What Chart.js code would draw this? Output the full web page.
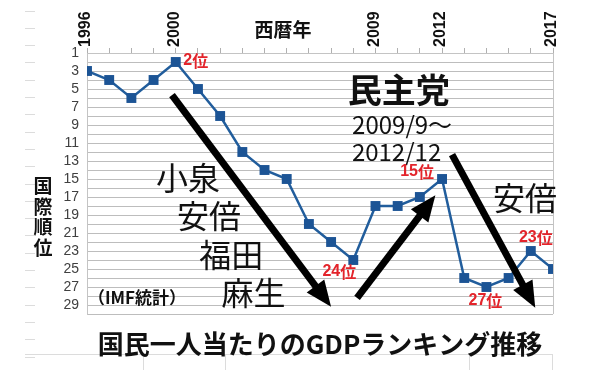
<!DOCTYPE html>
<html>
<head>
<meta charset="utf-8">
<script src="https://cdn.jsdelivr.net/npm/chart.js@4.4.0/dist/chart.umd.min.js"></script>
<style>
  html, body { margin: 0; padding: 0; background: #fff; }
</style>
</head>
<body>
<canvas id="myChart" width="602" height="370"></canvas>
<script>
// data
var years = [1996, 1997, 1998, 1999, 2000, 2001, 2002, 2003, 2004, 2005, 2006,
             2007, 2008, 2009, 2010, 2011, 2012, 2013, 2014, 2015, 2016, 2017];
var ranks = [3, 4, 6, 4, 2, 5, 8, 12, 14, 15, 20, 22, 24, 18, 18, 17, 15, 26, 27, 26, 23, 25];
var yearLabels = [1996, 2000, 2009, 2012, 2017];
var rankLabels = [1, 3, 5, 7, 9, 11, 13, 15, 17, 19, 21, 23, 25, 27, 29];
var calloutYears = [2000, 2008, 2012, 2014, 2016];

var jp = "'Noto Sans CJK JP', 'Noto Sans', sans-serif";
var lat = "'Liberation Sans', Arial, sans-serif";

// red rank callouts: pixel offset from the point
var calloutOffset = { 2000: [20, -1], 2008: [-14, 12], 2012: [-25, -7], 2014: [-1, 14], 2016: [5, -13] };

// text notes placed in data space (year, rank)
var notes = [
  { text: '民主党', x: 2010.05, y: 5.1, font: 'bold 34px ' + jp },
  { text: '2009/9～', x: 2010.2, y: 9.0, font: '24px ' + jp },
  { text: '2012/12', x: 2009.95, y: 12.0, font: '24px ' + jp },
  { text: '小泉', x: 2000.55, y: 14.9, font: '32px ' + jp },
  { text: '安倍', x: 2001.5, y: 19.1, font: '32px ' + jp },
  { text: '福田', x: 2002.5, y: 23.4, font: '32px ' + jp },
  { text: '麻生', x: 2003.5, y: 27.6, font: '32px ' + jp },
  { text: '（IMF統計）', x: 1998.25, y: 28.2, font: 'bold 17px ' + jp },
  { text: '安倍', x: 2015.74, y: 17.1, font: '32px ' + jp }
];

var arrows = [
  { from: [1999.83, 5.67], to: [2007.0, 29.2] },
  { from: [2008.17, 28.2], to: [2011.7, 16.8] },
  { from: [2012.45, 12.3], to: [2016.2, 29.3] }
];

function drawArrow(ctx, x1, y1, x2, y2) {
  var a = Math.atan2(y2 - y1, x2 - x1);
  var head = 26, half = 11;
  var bx = x2 - head * Math.cos(a), by = y2 - head * Math.sin(a);
  ctx.strokeStyle = '#000';
  ctx.lineWidth = 7;
  ctx.lineCap = 'butt';
  ctx.beginPath();
  ctx.moveTo(x1, y1);
  ctx.lineTo(bx + 2 * Math.cos(a), by + 2 * Math.sin(a));
  ctx.stroke();
  ctx.fillStyle = '#000';
  ctx.beginPath();
  ctx.moveTo(x2, y2);
  ctx.lineTo(bx + half * Math.sin(a), by - half * Math.cos(a));
  ctx.lineTo(bx - half * Math.sin(a), by + half * Math.cos(a));
  ctx.closePath();
  ctx.fill();
}

// faint spreadsheet cells behind the chart
var sheetPlugin = {
  id: 'sheet',
  beforeDraw: function (chart) {
    var ctx = chart.ctx;
    ctx.save();
    ctx.strokeStyle = '#dcdcdc';
    ctx.lineWidth = 1;
    for (var y = 10.5; y < 370; y += 17.3) {
      ctx.beginPath();
      ctx.moveTo(25, Math.round(y) + 0.5);
      ctx.lineTo(35, Math.round(y) + 0.5);
      ctx.stroke();
    }
    ctx.beginPath();
    ctx.moveTo(25, 354.5); ctx.lineTo(552, 354.5);
    [143.5, 225.5, 469.5, 552.5].forEach(function (x) {
      ctx.moveTo(x, 354); ctx.lineTo(x, 370);
    });
    ctx.stroke();
    ctx.restore();
  }
};

var notesPlugin = {
  id: 'notes',
  afterDatasetsDraw: function (chart) {
    var ctx = chart.ctx, xs = chart.scales.x, ys = chart.scales.y, area = chart.chartArea;
    ctx.save();

    // right frame line
    ctx.strokeStyle = '#c4c4c4';
    ctx.lineWidth = 1;
    ctx.beginPath();
    ctx.moveTo(Math.round(area.right) + 0.5, area.top);
    ctx.lineTo(Math.round(area.right) + 0.5, area.bottom);
    ctx.stroke();

    // year labels on the top axis, reading bottom to top
    ctx.fillStyle = '#111';
    ctx.font = 'bold 16px ' + lat;
    ctx.textAlign = 'left';
    ctx.textBaseline = 'middle';
    yearLabels.forEach(function (yr) {
      ctx.save();
      ctx.translate(xs.getPixelForValue(yr) - 1, area.top - 6);
      ctx.rotate(-Math.PI / 2);
      ctx.fillText(String(yr), 0, 0);
      ctx.restore();
    });

    arrows.forEach(function (a) {
      drawArrow(ctx, xs.getPixelForValue(a.from[0]), ys.getPixelForValue(a.from[1]),
                xs.getPixelForValue(a.to[0]), ys.getPixelForValue(a.to[1]));
    });

    ctx.textAlign = 'center';
    ctx.textBaseline = 'middle';
    ctx.fillStyle = '#111';
    notes.forEach(function (n) {
      ctx.font = n.font;
      ctx.fillText(n.text, xs.getPixelForValue(n.x), ys.getPixelForValue(n.y));
    });

    // red rank callouts
    ctx.fillStyle = '#e3242b';
    calloutYears.forEach(function (yr) {
      var i = years.indexOf(yr), off = calloutOffset[yr];
      var px = xs.getPixelForValue(yr) + off[0], py = ys.getPixelForValue(ranks[i]) + off[1];
      var num = String(ranks[i]);
      ctx.font = 'bold 16px ' + lat;
      var w1 = ctx.measureText(num).width;
      ctx.font = 'bold 16px ' + jp;
      var w2 = ctx.measureText('位').width;
      var sx = px - (w1 + w2) / 2;
      ctx.textAlign = 'left';
      ctx.font = 'bold 16px ' + lat;
      ctx.fillText(num, sx, py);
      ctx.font = 'bold 16px ' + jp;
      ctx.fillText('位', sx + w1, py);
      ctx.textAlign = 'center';
    });

    // axis titles
    ctx.fillStyle = '#111';
    ctx.font = 'bold 19px ' + jp;
    ctx.fillText('西暦年', 283, 30);
    '国際順位'.split('').forEach(function (ch, k) {
      ctx.fillText(ch, 43, 186 + k * 20.5);
    });

    // bottom title
    ctx.font = 'bold 26px ' + jp;
    ctx.fillText('国民一人当たりのGDPランキング推移', 320, 344);
    ctx.restore();
  }
};

var ctx = document.getElementById('myChart').getContext('2d');

var myChart = new Chart(ctx, {
  type: 'line',
  data: {
    datasets: [{
      label: '国際順位',
      data: years.map(function (yr, i) { return { x: yr, y: ranks[i] }; }),
      borderColor: '#215d9c',
      backgroundColor: '#1c5495',
      borderWidth: 2.5,
      pointStyle: 'rect',
      pointRadius: 7,
      pointBorderWidth: 0,
      pointHoverRadius: 7,
      tension: 0
    }]
  },
  options: {
    responsive: false,
    animation: false,
    layout: { padding: { left: 0, top: 0, right: 49, bottom: 56 } },
    plugins: {
      legend: { display: false },
      tooltip: { enabled: false }
    },
    scales: {
      x: {
        type: 'linear',
        position: 'top',
        min: 1996,
        max: 2017,
        afterFit: function (scale) { scale.height = 53; },
        afterBuildTicks: function (scale) {
          scale.ticks = years.map(function (yr) { return { value: yr }; });
        },
        ticks: {
          autoSkip: false,
          maxRotation: 0,
          callback: function () { return ''; }
        },
        grid: { drawOnChartArea: false, drawTicks: true, tickLength: 5, color: '#b0b0b0' },
        border: { color: '#c4c4c4' }
      },
      y: {
        reverse: true,
        min: 1,
        max: 30,
        afterFit: function (scale) { scale.width = 87; },
        afterBuildTicks: function (scale) {
          var t = [];
          for (var v = 1; v <= 30; v++) t.push({ value: v });
          scale.ticks = t;
        },
        ticks: {
          autoSkip: false,
          padding: 8,
          color: '#404040',
          font: { family: lat, size: 14 },
          callback: function (v) { return rankLabels.indexOf(v) >= 0 ? String(v) : ''; }
        },
        grid: { color: '#bdbdbd', lineWidth: 1, drawTicks: false },
        border: { color: '#c4c4c4' }
      }
    }
  },
  plugins: [sheetPlugin, notesPlugin]
});
</script>
</body>
</html>
